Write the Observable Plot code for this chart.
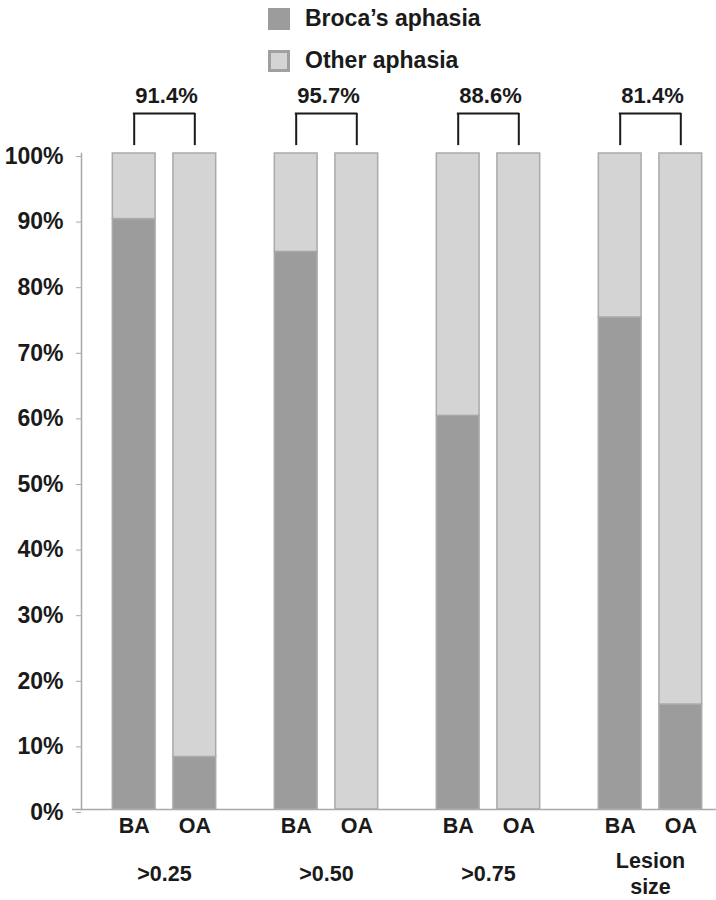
<!DOCTYPE html>
<html>
<head>
<meta charset="utf-8">
<script src="https://cdn.jsdelivr.net/npm/d3@7"></script>
<script src="https://cdn.jsdelivr.net/npm/@observablehq/plot@0.6"></script>
<style>
  html, body { margin: 0; padding: 0; background: #fff; }
  body { width: 716px; font-family: "Liberation Sans", Arial, sans-serif; color: #1a1a1a; }
  #legend { position: relative; height: 80px; }
  .item { position: absolute; left: 268px; display: flex; align-items: center; font-size: 23px; font-weight: bold; }
  .sw { width: 22px; height: 22px; box-sizing: border-box; margin-right: 15px; }
</style>
</head>
<body>
<div id="legend"></div>
<div id="chart"></div>
<script>
// ---- data ----
const groups = [">0.25", ">0.50", ">0.75", "Lesion size"];
const groupLabels = [">0.25", ">0.50", ">0.75", "Lesion\nsize"];
const subCategories = ["BA", "OA"];
const seriesNames = ["Broca\u2019s aphasia", "Other aphasia"];
// share classified as Broca's aphasia, for BA and OA patients
const brocaShareBA = [0.90, 0.85, 0.60, 0.75];
const brocaShareOA = [0.08, 0.00, 0.00, 0.16];
const accuracy = [91.4, 95.7, 88.6, 81.4];
const yTicks = [0, 0.1, 0.2, 0.3, 0.4, 0.5, 0.6, 0.7, 0.8, 0.9, 1.0];

// ---- styles ----
const darkFill = "#9c9c9c", lightFill = "#d4d4d4", edge = "#a9a9a9", ink = "#1a1a1a";
const offset = 30.3;              // half distance between BA and OA bar centres (px)
const barInset = (162.25 - 43) / 2;

// legend (HTML, above the svg)
const legend = document.getElementById("legend");
[[seriesNames[0], darkFill, "none", 5], [seriesNames[1], lightFill, "3px solid #a0a0a0", 47]].forEach(([name, fill, border, top]) => {
  const it = document.createElement("div");
  it.className = "item";
  it.style.top = top + "px";
  const sw = document.createElement("div");
  sw.className = "sw";
  sw.style.background = fill;
  sw.style.border = border;
  const tx = document.createElement("span");
  tx.textContent = name;
  it.append(sw, tx);
  legend.append(it);
});

// long table for stacking
const rows = [];
groups.forEach((g, i) => {
  [brocaShareBA[i], brocaShareOA[i]].forEach((b, j) => {
    rows.push({group: g, sub: subCategories[j], series: seriesNames[0], share: b});
    rows.push({group: g, sub: subCategories[j], series: seriesNames[1], share: 1 - b});
  });
});

const barMarks = subCategories.map((s, j) => Plot.barY(rows.filter(d => d.sub === s), {
  x: "group", y: "share", fill: "series", stroke: edge, strokeWidth: 1.5,
  order: seriesNames, insetLeft: barInset, insetRight: barInset, dx: j === 0 ? -offset : offset
}));

const chart = Plot.plot({
  width: 716,
  height: 820,
  marginTop: 73,
  marginBottom: 91,
  marginLeft: 81,
  marginRight: 0,
  style: {fontFamily: "'Liberation Sans', Arial, sans-serif", color: ink, background: "#fff", overflow: "visible"},
  x: {domain: groups, range: [82.6, 731.6], padding: 0, axis: null},
  y: {domain: [0, 1], axis: null, label: null},
  color: {domain: seriesNames, range: [darkFill, lightFill]},
  marks: [
    ...barMarks,
    Plot.frame({anchor: "left", stroke: edge, strokeWidth: 1.5}),
    Plot.ruleY([0], {stroke: edge, strokeWidth: 1.5, insetLeft: -9}),
    Plot.axisY({ticks: yTicks, tickFormat: d3.format(".0%"), tickSize: 5, tickPadding: 13, label: null,
      stroke: edge, fill: ink, fontSize: 23, fontWeight: "bold", dy: 3}),
    // BA / OA labels
    ...subCategories.map((s, j) => Plot.text(groups, {x: d => d, text: () => s, frameAnchor: "bottom",
      dy: 23, dx: j === 0 ? -offset : offset, fontSize: 21.5, fontWeight: "bold", fill: ink})),
    // group labels
    Plot.text(groups, {x: d => d, text: (d, i) => groupLabels[i], frameAnchor: "bottom", dy: 63,
      lineAnchor: "middle", lineHeight: 1.22, fontSize: 21.5, fontWeight: "bold", fill: ink}),
    // brackets
    ...[-offset, offset].map(o => Plot.ruleX(groups, {x: d => d, y1: 1.012, y2: 1.061, dx: o, stroke: ink, strokeWidth: 2})),
    Plot.tickY(groups, {x: d => d, y: 1.061, insetLeft: 162.25 / 2 - offset - 1, insetRight: 162.25 / 2 - offset - 1, stroke: ink, strokeWidth: 2}),
    Plot.text(groups, {x: d => d, text: (d, i) => accuracy[i].toFixed(1) + "%", frameAnchor: "top", dy: -66, dx: 2,
      fontSize: 22, fontWeight: "bold", fill: ink})
  ]
});
document.getElementById("chart").append(chart);
</script>
</body>
</html>
